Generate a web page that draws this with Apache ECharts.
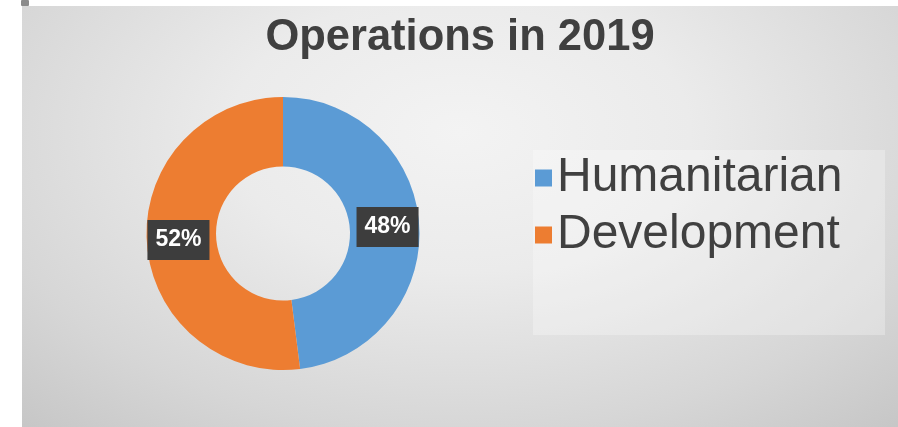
<!DOCTYPE html>
<html>
<head>
<meta charset="utf-8">
<script src="https://cdn.jsdelivr.net/npm/echarts@6/dist/echarts.min.js"></script>
<style>
  html, body { margin: 0; padding: 0; background: #ffffff; width: 898px; height: 427px; overflow: hidden; }
  #chart {
    position: absolute; left: 22px; top: 6px; width: 876px; height: 421px;
    background: radial-gradient(ellipse 75% 95% at 50% 30%, #f3f3f3 0%, #ebebeb 35%, #d6d6d6 75%, #c6c6c6 100%);
  }
  #mark { position: absolute; left: 21px; top: 0; width: 8px; height: 6px; background: #8a8a8a; border-radius: 1px; }
</style>
</head>
<body>
<div id="mark"></div>
<div id="chart"></div>
<script>
const titleText = 'Operations in 2019';
const categories = ['Humanitarian', 'Development'];
const values = [48, 52];
const colors = ['#5b9bd5', '#ed7d31'];

const chart = echarts.init(document.getElementById('chart'), null, { renderer: 'canvas' });
const font = 'Liberation Sans, Arial, sans-serif';

chart.setOption({
  animation: false,
  backgroundColor: 'transparent',
  color: colors,
  title: {
    text: titleText,
    left: 'center',
    top: 5,
    textStyle: { fontFamily: font, fontSize: 43.5, fontWeight: 'bold', color: '#404040' }
  },
  graphic: [{
    type: 'rect',
    left: 511, top: 144, z: 0,
    shape: { width: 352, height: 185 },
    style: { fill: 'rgba(255,255,255,0.28)' },
    silent: true
  }],
  legend: {
    orient: 'vertical',
    left: 513,
    top: 148,
    padding: 0,
    itemWidth: 17,
    itemHeight: 17,
    itemGap: 9,
    icon: 'rect',
    selectedMode: false,
    data: categories,
    textStyle: { fontFamily: font, fontSize: 48, color: '#404040', padding: [0, 0, 0, 0] }
  },
  series: [{
    type: 'pie',
    center: [261, 227.5],
    radius: [67, 136.5],
    startAngle: 90,
    clockwise: true,
    silent: true,
    label: {
      show: true,
      position: 'inside',
      formatter: '{d}%',
      color: '#ffffff',
      fontFamily: font,
      fontSize: 23,
      fontWeight: 'bold',
      backgroundColor: '#3d3d3d',
      padding: [8, 8, 9, 8]
    },
    labelLine: { show: false },
    itemStyle: { borderWidth: 0 },
    data: categories.map((c, i) => ({ name: c, value: values[i] }))
  }]
});
</script>
</body>
</html>
